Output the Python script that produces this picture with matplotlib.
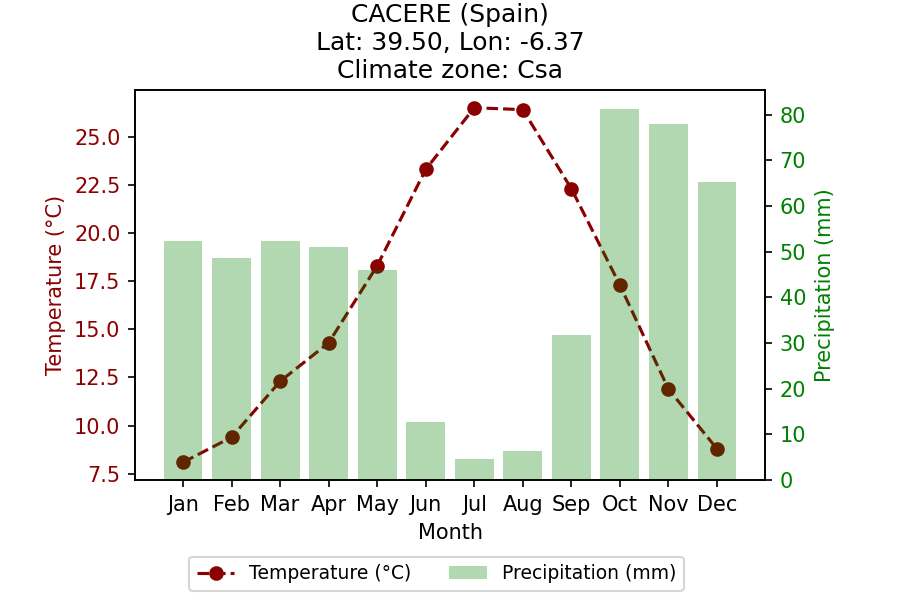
import matplotlib.pyplot as plt

months = ['Jan', 'Feb', 'Mar', 'Apr', 'May', 'Jun', 'Jul', 'Aug', 'Sep', 'Oct', 'Nov', 'Dec']
temperature = [8.1, 9.4, 12.3, 14.3, 18.3, 23.3, 26.5, 26.4, 22.3, 17.3, 11.9, 8.8]
precipitation = [52.3, 48.6, 52.3, 51.1, 46.0, 12.7, 4.6, 6.3, 31.7, 81.3, 78.0, 65.3]

fig, ax1 = plt.subplots(figsize=(6, 4), dpi=150)
ax2 = ax1.twinx()

# bars go on the second axis but are drawn under the temperature line
bars = ax2.bar(months, precipitation, color='green', alpha=0.3, label='Precipitation (mm)')
line, = ax1.plot(months, temperature, color='darkred', marker='o', linestyle='--',
                 label='Temperature (°C)')

ax1.set_zorder(ax2.get_zorder() - 1)
ax1.patch.set_visible(False)
ax2.patch.set_visible(True)
ax2.patch.set_alpha(0)

ax1.set_xlabel('Month')
ax1.set_ylabel('Temperature (°C)', color='darkred')
ax1.tick_params(axis='y', labelcolor='darkred')
ax2.set_ylabel('Precipitation (mm)', color='green')
ax2.tick_params(axis='y', labelcolor='green')

ax1.set_title('CACERE (Spain)\nLat: 39.50, Lon: -6.37\nClimate zone: Csa')
fig.legend([line, bars], ['Temperature (°C)', 'Precipitation (mm)'], loc='lower center',
           ncol=2, bbox_to_anchor=(0.485, 0.0), fontsize=9)

fig.subplots_adjust(left=0.15, right=0.85, top=0.85, bottom=0.2)
fig.savefig('out.png')
